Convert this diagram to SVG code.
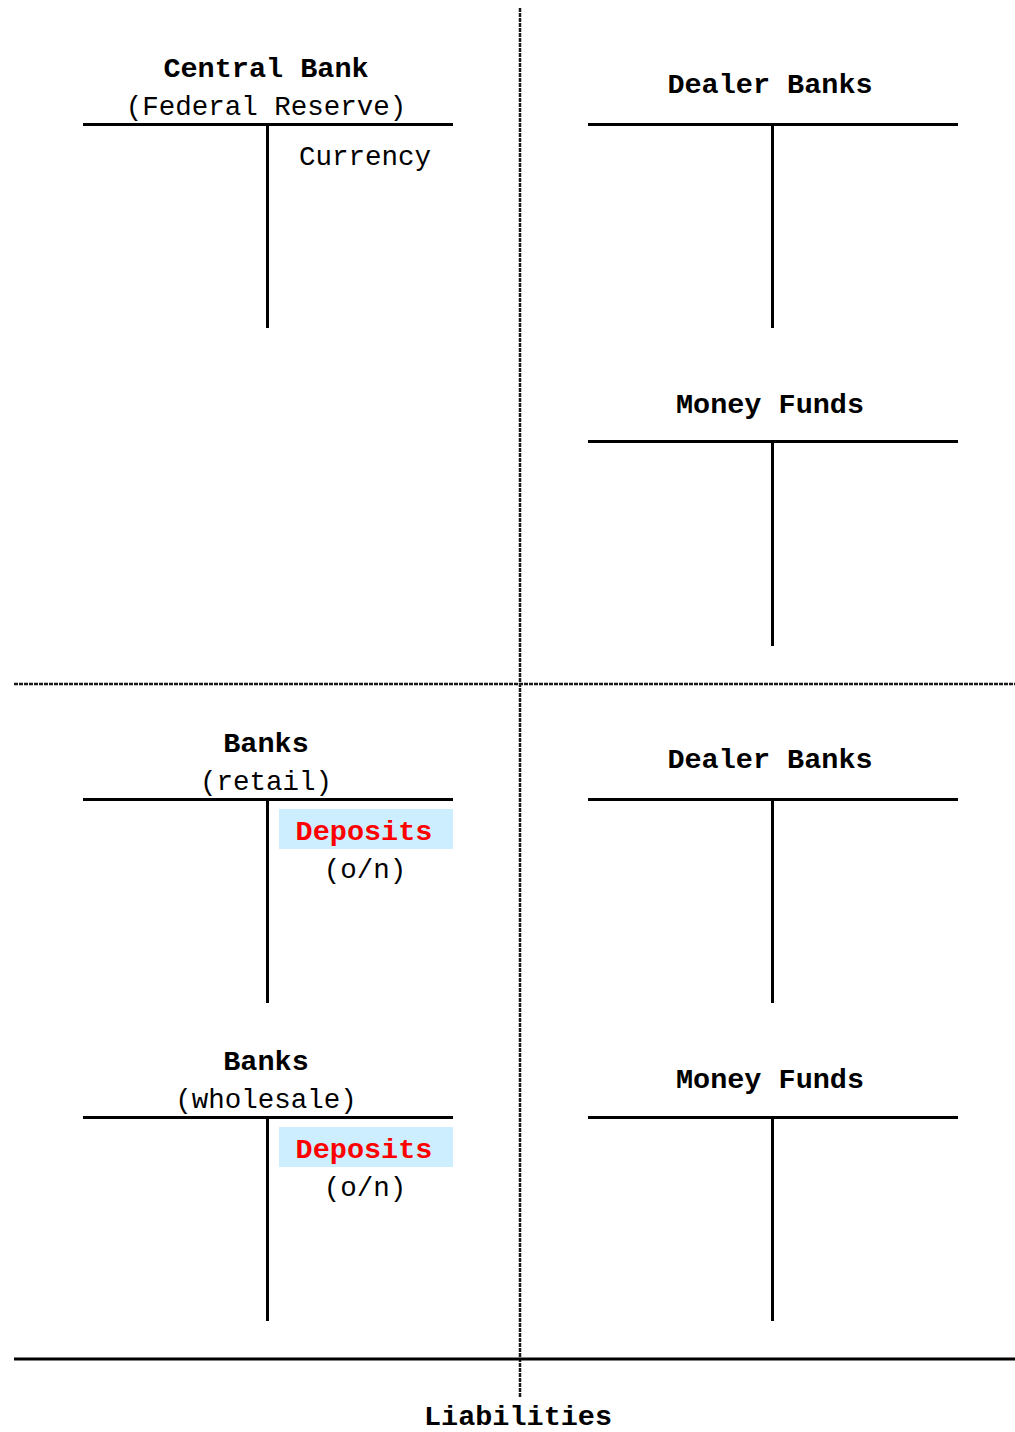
<svg xmlns="http://www.w3.org/2000/svg" width="1015" height="1432" viewBox="0 0 1015 1432">
<style>
.t{font-family:"Liberation Mono","Courier New",monospace;font-size:27.5px;fill:#000;text-anchor:middle}
.b{font-weight:bold;font-size:28.5px}
.red{fill:#ff0000;font-weight:bold;font-size:28.5px}
.ln{stroke:#000;stroke-width:3;fill:none}
.dash{stroke:#1a1a1a;stroke-width:2.5;stroke-dasharray:4 1;fill:none}
.box{fill:#cceeff}
</style>
<rect width="1015" height="1432" fill="#fff"/>
<g id="connectors">
<line class="dash" x1="520" y1="8" x2="520" y2="1397"/>
<line class="dash" x1="14" y1="684" x2="1015" y2="684"/>
<line class="ln" x1="14" y1="1359" x2="1015" y2="1359"/>
</g>
<g id="central-bank">
<text class="t b" x="266" y="77">Central Bank</text>
<text class="t" x="266" y="115">(Federal Reserve)</text>
<line class="ln" x1="83" y1="124.5" x2="453" y2="124.5"/>
<line class="ln" x1="267.5" y1="124" x2="267.5" y2="328"/>
<text class="t" x="365" y="165">Currency</text>
</g>
<g id="dealer-banks-top">
<text class="t b" x="770" y="93">Dealer Banks</text>
<line class="ln" x1="588" y1="124.5" x2="958" y2="124.5"/>
<line class="ln" x1="772.5" y1="124" x2="772.5" y2="328"/>
</g>
<g id="money-funds-top">
<text class="t b" x="770" y="413">Money Funds</text>
<line class="ln" x1="588" y1="441.5" x2="958" y2="441.5"/>
<line class="ln" x1="772.5" y1="441" x2="772.5" y2="646"/>
</g>
<g id="banks-retail">
<text class="t b" x="266" y="752">Banks</text>
<text class="t" x="266" y="790">(retail)</text>
<line class="ln" x1="83" y1="799.5" x2="453" y2="799.5"/>
<line class="ln" x1="267.5" y1="799" x2="267.5" y2="1003"/>
<rect class="box" x="279" y="809" width="174" height="40"/>
<text class="t red" x="364" y="840">Deposits</text>
<text class="t" x="365" y="878">(o/n)</text>
</g>
<g id="dealer-banks-bottom">
<text class="t b" x="770" y="768">Dealer Banks</text>
<line class="ln" x1="588" y1="799.5" x2="958" y2="799.5"/>
<line class="ln" x1="772.5" y1="799" x2="772.5" y2="1003"/>
</g>
<g id="banks-wholesale">
<text class="t b" x="266" y="1070">Banks</text>
<text class="t" x="266" y="1108">(wholesale)</text>
<line class="ln" x1="83" y1="1117.5" x2="453" y2="1117.5"/>
<line class="ln" x1="267.5" y1="1117" x2="267.5" y2="1321"/>
<rect class="box" x="279" y="1127" width="174" height="40"/>
<text class="t red" x="364" y="1158">Deposits</text>
<text class="t" x="365" y="1196">(o/n)</text>
</g>
<g id="money-funds-bottom">
<text class="t b" x="770" y="1088">Money Funds</text>
<line class="ln" x1="588" y1="1117.5" x2="958" y2="1117.5"/>
<line class="ln" x1="772.5" y1="1117" x2="772.5" y2="1321"/>
</g>
<g id="liabilities">
<text class="t b" x="518" y="1425">Liabilities</text>
</g>
</svg>
